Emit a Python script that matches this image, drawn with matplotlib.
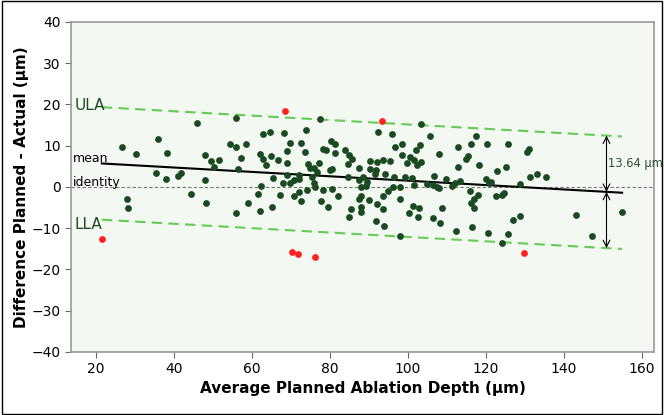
import numpy as np
import matplotlib.pyplot as plt
from matplotlib.patches import Rectangle

# Bland-Altman data: average planned depth vs. difference planned - actual
x_in = [26.8, 30.2, 35.9, 38.1, 35.5, 37.9, 27.9, 28.2,
        45.8, 56.0, 54.3, 55.8, 58.4, 47.9, 49.4, 51.6, 50.2, 57.1, 56.4,
        41.0, 41.7, 47.9, 44.5, 48.3, 56.0, 59.0,
        77.6, 62.9, 64.6, 68.3, 74.0, 69.8, 72.7, 69.0, 73.6, 78.2, 79.0,
        62.0, 62.9, 64.8, 63.5, 66.7, 68.9, 74.5, 77.1, 74.9, 75.9, 76.7,
        80.0, 69.0, 65.3, 72.1, 72.0, 70.9, 69.9, 68.0, 75.4, 76.0, 76.3,
        62.3, 74.1, 78.2, 72.0, 61.5, 67.2, 70.8, 72.6, 77.7, 79.5, 65.1,
        62.1,
        92.4, 96.0, 80.3, 81.4, 96.8, 98.6, 84.0, 81.4, 84.9, 85.8, 90.3,
        92.0, 93.7, 95.4, 98.6, 99.7, 84.6, 80.6, 87.5, 90.3, 91.9, 91.5,
        94.2, 96.4, 99.3, 84.6, 88.5, 87.5, 89.6, 88.0, 89.3, 96.2, 98.1,
        80.5, 94.9, 93.7, 82.1, 87.9, 87.4, 90.0, 98.1, 92.0, 88.0, 85.5,
        93.6, 87.9, 84.8, 100.3, 91.9, 93.8, 98.1,
        103.4, 105.6, 117.4, 103.2, 116.2, 120.3, 112.8, 102.1, 108.0, 100.5,
        115.4, 114.9, 101.7, 103.4, 102.4, 118.3, 113.0, 101.2, 106.7, 109.9,
        113.4, 120.1, 101.5, 104.9, 106.4, 107.4, 108.1, 111.4, 112.0, 120.8,
        116.1, 117.9, 117.1, 116.2, 116.9, 101.3, 103.0, 108.7, 102.6, 106.4,
        108.2, 116.4, 112.4, 120.5,
        125.6, 131.1, 130.5, 122.9, 125.2, 131.4, 133.1, 135.5, 121.4, 128.8,
        124.6, 124.3, 122.6, 128.9, 126.9, 125.7, 124.2,
        143.2, 147.3, 154.9]
y_in = [9.6, 8.0, 11.7, 8.2, 3.3, 1.9, -3.0, -5.0,
        15.6, 16.8, 10.4, 9.6, 10.4, 7.8, 6.2, 6.6, 4.9, 7.0, 4.4,
        2.7, 3.5, 1.7, -1.7, -3.8, -6.3, -4.0,
        16.5, 12.9, 13.3, 13.1, 13.9, 10.6, 10.6, 8.8, 8.4, 9.2, 9.0,
        8.0, 6.8, 7.6, 5.4, 6.5, 5.8, 5.5, 5.9, 4.5, 4.6, 3.6,
        4.0, 3.0, 2.1, 3.0, 2.0, 1.7, 0.9, 0.9, 2.5, 0.9, 0.1,
        0.2, -0.8, -0.7, -1.2, -1.7, -1.9, -2.3, -3.3, -3.3, -4.8, -4.9,
        -5.8,
        13.3, 12.8, 11.2, 10.4, 9.8, 10.4, 9.0, 8.3, 7.8, 6.8, 6.3,
        6.0, 6.6, 6.3, 7.8, 5.7, 5.6, 4.4, 4.5, 4.4, 4.0, 3.2,
        3.2, 2.4, 2.4, 2.5, 2.4, 1.7, 1.3, -0.1, 0.2, 0.1, -0.1,
        -0.6, -0.9, -2.2, -2.1, -2.2, -3.0, -3.2, -2.9, -4.1, -4.9, -5.4,
        -5.3, -6.1, -7.2, -6.2, -8.2, -9.5, -11.9,
        15.3, 12.4, 12.4, 10.2, 10.4, 10.4, 9.6, 9.0, 8.0, 7.2,
        7.4, 6.7, 6.6, 6.1, 5.3, 5.3, 4.9, 2.1, 2.7, 1.9,
        1.5, 2.0, 0.5, 0.7, 0.5, 0.1, -0.3, 0.2, 1.0, 1.0,
        -0.9, -1.9, -3.0, -3.8, -5.2, -4.6, -5.0, -5.2, -7.4, -7.6,
        -8.8, -9.6, -10.6, -11.2,
        10.4, 9.2, 8.4, 3.8, 4.9, 2.5, 3.1, 2.5, 1.3, 0.7,
        -1.4, -1.9, -2.3, -7.0, -8.0, -11.3, -13.7,
        -6.9, -11.8, -6.1]

# outliers beyond the limits of agreement
x_out = [21.5, 68.4, 93.3, 70.4, 71.9, 76.1, 129.9]
y_out = [-12.5, 18.3, 16.1, -15.7, -16.3, -16.9, -16.1]

# regression line of the mean difference and limits of agreement
mean_x = [21.5, 155.0]
mean_y = [5.7, -1.4]
loa = 13.64
arrow_x = 151.0

fig = plt.figure(figsize=(6.64, 4.15), dpi=100)
ax = fig.add_axes([0.107, 0.152, 0.878, 0.795])
ax.set_facecolor("#f3f8f2")

green = "#1b4a22"
ax.scatter(x_in, y_in, s=24, color=green, zorder=3, linewidths=0)
ax.scatter(x_out, y_out, s=24, color="#ff2020", zorder=3, linewidths=0)

mx = np.array(mean_x)
my = np.array(mean_y)
ax.axhline(0, color="#777777", lw=0.8, ls=(0, (3, 2)), zorder=1)
ax.plot(mx, my, color="black", lw=1.5, zorder=2)
ax.plot(mx, my + loa, color="#66cc55", lw=1.5, ls=(0, (5, 3)), zorder=2)
ax.plot(mx, my - loa, color="#66cc55", lw=1.5, ls=(0, (5, 3)), zorder=2)

# arrows showing the width of the limits
m_at = np.interp(arrow_x, mx, my)
arrow_kw = dict(arrowstyle="<->", color="black", lw=0.8, mutation_scale=12,
                shrinkA=0, shrinkB=0)
ax.annotate("", xy=(arrow_x, m_at + loa), xytext=(arrow_x, m_at),
            arrowprops=arrow_kw)
ax.annotate("", xy=(arrow_x, m_at - loa), xytext=(arrow_x, m_at),
            arrowprops=arrow_kw)
ax.text(arrow_x + 0.4, m_at + loa / 2, "13.64 µm", color="#2f4f2f",
        fontsize=8.3, va="center", ha="left", clip_on=False)

ax.text(14.5, 19.7, "ULA", color="#1b4a22", fontsize=11, va="center")
ax.text(14.5, -9.0, "LLA", color="#1b4a22", fontsize=11, va="center")
ax.text(14.0, 7.0, "mean", color="black", fontsize=9, va="center")
ax.text(14.0, 1.0, "identity", color="black", fontsize=9, va="center")

ax.set_xlim(13.6, 163.2)
ax.set_ylim(-40, 40)
ax.set_xticks(range(20, 161, 20))
ax.set_yticks(range(-40, 41, 10))
ax.tick_params(direction="out", length=4, color="#666666", labelsize=10)
for s in ax.spines.values():
    s.set_color("#999999")
    s.set_linewidth(1.2)

ax.set_xlabel("Average Planned Ablation Depth (µm)", fontsize=11,
              fontweight="bold", labelpad=3)
ax.set_ylabel("Difference Planned - Actual (µm)", fontsize=11,
              fontweight="bold", labelpad=2)

# frame around the whole picture
fig.patches.append(Rectangle((0.003, 0.003), 0.994, 0.994,
                             transform=fig.transFigure, fill=False,
                             edgecolor="black", lw=1))

plt.savefig("out.png", dpi=100)
